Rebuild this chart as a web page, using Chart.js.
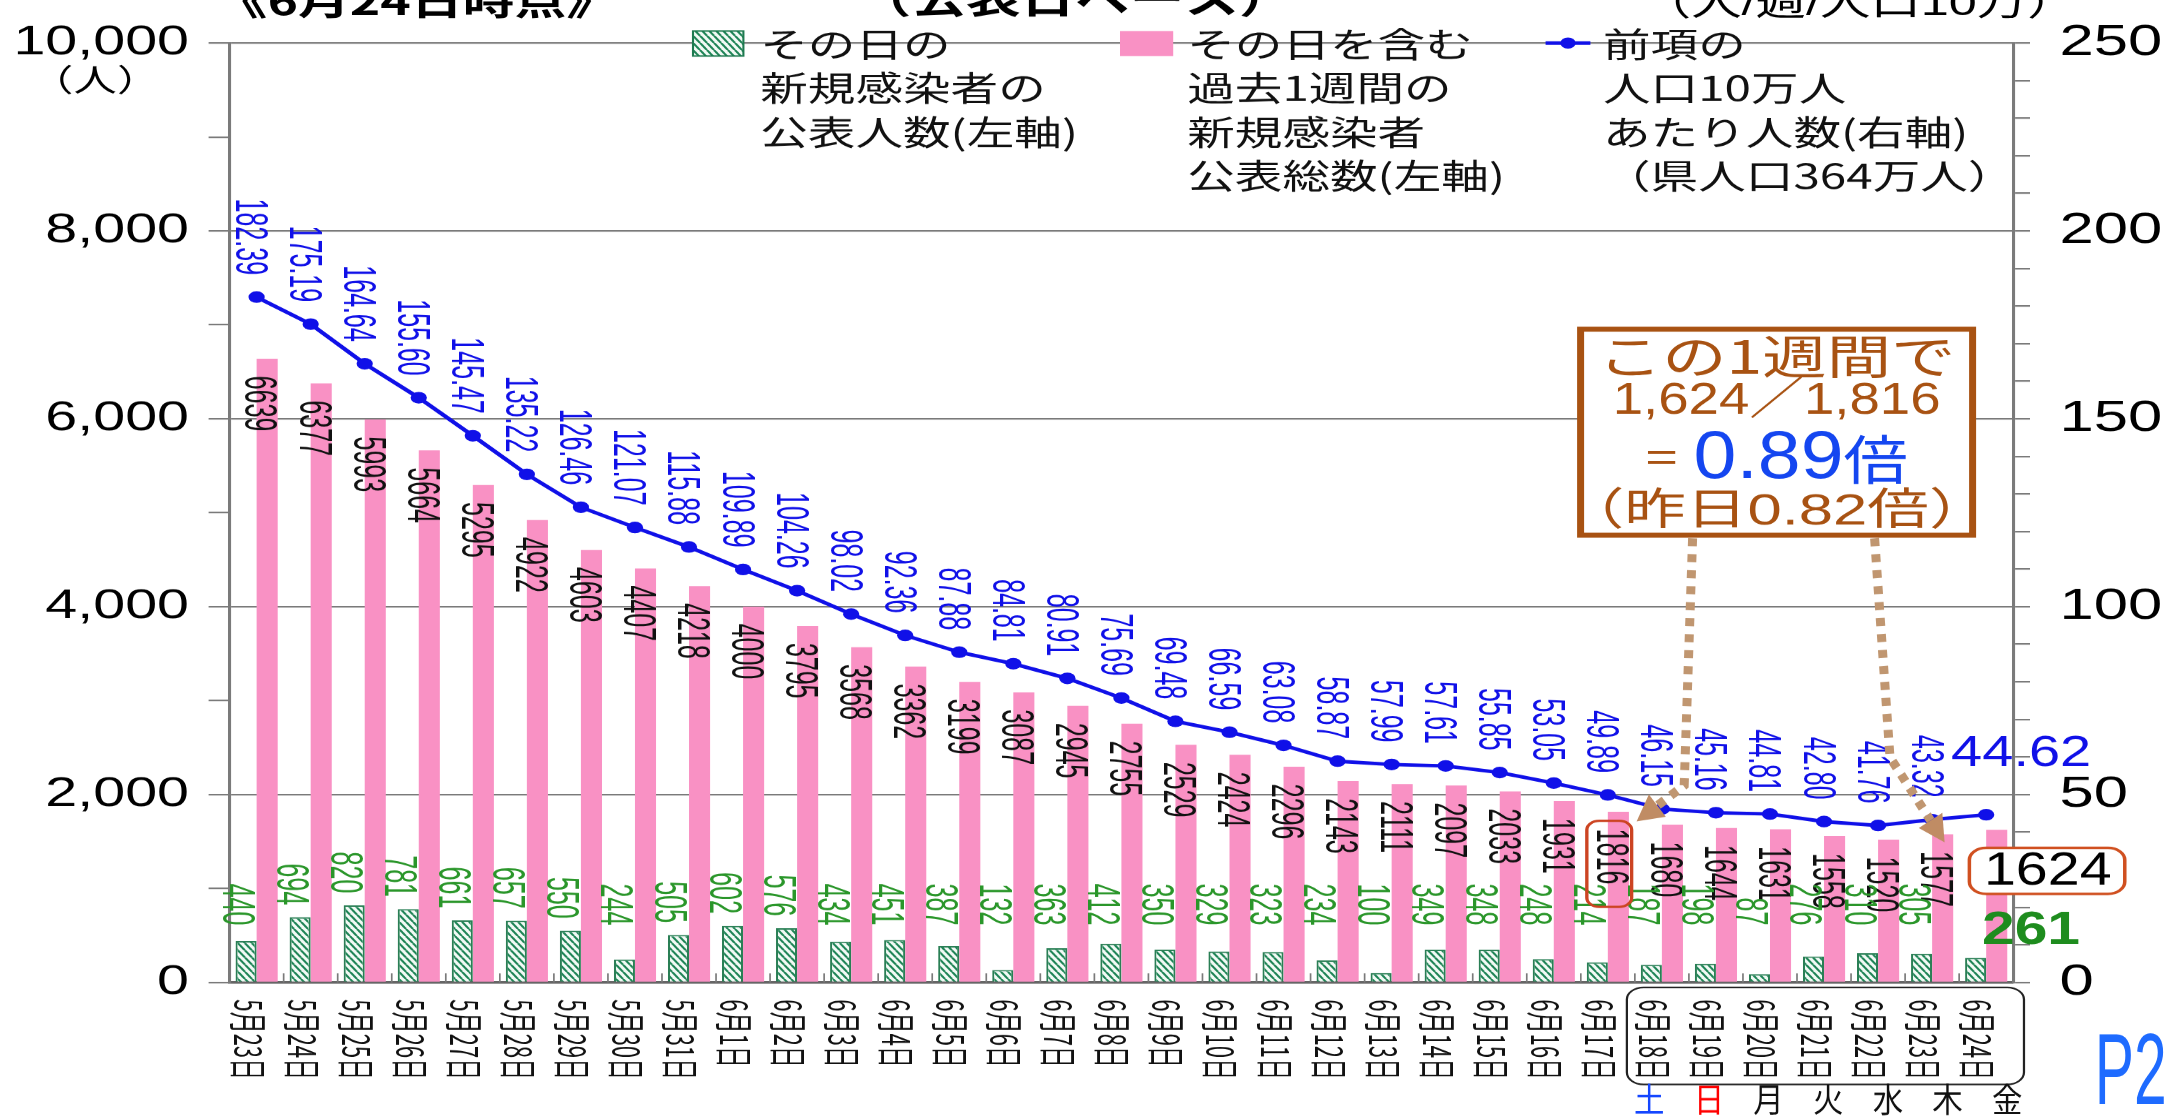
<!DOCTYPE html>
<html><head><meta charset="utf-8">
<script src="https://cdn.jsdelivr.net/npm/chart.js@4.4.1/dist/chart.umd.min.js"></script>
<style>
html,body{margin:0;padding:0;background:#fff;overflow:hidden;width:2177px;height:1119px;}
#wrap{position:absolute;left:0;top:0;width:1555px;height:1119px;transform:scaleX(1.4);transform-origin:0 0;}
canvas{display:block;}
</style></head><body>
<div id="wrap"><canvas id="c" width="1555" height="1119"></canvas></div>
<script>
// ---------------- data ----------------
const categories = ['5月23日','5月24日','5月25日','5月26日','5月27日','5月28日','5月29日','5月30日','5月31日','6月1日','6月2日','6月3日','6月4日','6月5日','6月6日','6月7日','6月8日','6月9日','6月10日','6月11日','6月12日','6月13日','6月14日','6月15日','6月16日','6月17日','6月18日','6月19日','6月20日','6月21日','6月22日','6月23日','6月24日'];
const dailyCases = [440,694,820,781,661,657,550,244,505,602,576,434,451,387,132,363,412,350,329,323,234,100,349,348,248,214,187,198,87,276,310,305,261];
const weeklyCases = [6639,6377,5993,5664,5295,4922,4603,4407,4218,4000,3795,3568,3362,3199,3087,2945,2755,2529,2424,2296,2143,2111,2097,2033,1931,1816,1680,1644,1631,1558,1520,1577,1624];
const per100k = [182.39,175.19,164.64,155.60,145.47,135.22,126.46,121.07,115.88,109.89,104.26,98.02,92.36,87.88,84.81,80.91,75.69,69.48,66.59,63.08,58.87,57.99,57.61,55.85,53.05,49.89,46.15,45.16,44.81,42.80,41.76,43.32,44.62];
const leftTickLabels = [0,2000,4000,6000,8000,10000];
const rightTickLabels = [0,50,100,150,200,250];
const weekdays = ['土','日','月','火','水','木','金'];
const legendDaily = ['その日の','新規感染者の','公表人数(左軸)'];
const legendWeekly = ['その日を含む','過去1週間の','新規感染者','公表総数(左軸)'];
const legendRate = ['前項の','人口10万人','あたり人数(右軸)','（県人口364万人）'];
const titleLeft = '《6月24日時点》';
const titleMid = '（公表日ベース）';
const titleRight = '（人/週/人口10万）';
const calloutLines = ['この1週間で','1,624／1,816','0.89','（昨日0.82倍）'];
const compareIndexA = 25;   // 6月17日 (1816)
const compareIndexB = 32;   // 6月24日 (1624)
const weekStartIndex = 26;  // 6月18日

// ---------------- styles ----------------
const SX = 1.4, DPR = 1.4;
const PINK = 'rgb(249,145,196)';
const BLUE = '#1010E8';
const GREEN_TXT = '#2A962A';
const BROWN = 'rgb(168,82,18)';
const GRID = '#7a7a7a';
const NUMF = '"Liberation Sans", Arial, sans-serif';
const JPF = '"Noto Sans CJK JP", "Noto Sans CJK SC", sans-serif';
const MIXF = '"Liberation Sans", "Noto Sans CJK JP", sans-serif';

function makeHatch(){
  const c = document.createElement('canvas'); c.width = 7; c.height = 10;
  const g = c.getContext('2d');
  g.fillStyle = '#F2FAF5'; g.fillRect(0,0,7,10);
  g.strokeStyle = '#1E8456'; g.lineWidth = 2.4;
  for (const k of [-1,0,1]) { g.beginPath(); g.moveTo(k*7,0); g.lineTo(k*7+7,10); g.stroke(); }
  const p = g.createPattern(c,'repeat');
  p.setTransform(new DOMMatrix().scale(1/DPR));
  return p;
}
const hatch = makeHatch();

// rotated (clockwise) text; gs scales glyph height (screen x)
function vtext(ctx, text, x, y, align, font, color, gs){
  ctx.save();
  ctx.translate(x, y);
  ctx.rotate(Math.PI/2);
  ctx.scale(1, gs || 1);
  ctx.font = font; ctx.fillStyle = color;
  ctx.textAlign = align; ctx.textBaseline = 'middle';
  ctx.fillText(text, 0, 0);
  ctx.restore();
}
function htext(ctx, text, x, y, align, font, color, base, sx, sy){
  ctx.save();
  ctx.translate(x, y);
  ctx.scale(sx || 1, sy || 1);
  ctx.font = font; ctx.fillStyle = color;
  ctx.textAlign = align; ctx.textBaseline = base || 'middle';
  ctx.fillText(text, 0, 0);
  ctx.restore();
}

// arrow drawn in screen space (undo horizontal stretch)
function dottedArrow(ctx, pts){
  ctx.save();
  ctx.scale(1/SX, 1);
  const P = pts.map(p => [p[0]*SX, p[1]]);
  ctx.strokeStyle = 'rgb(192,150,112)';
  ctx.lineWidth = 9;
  ctx.setLineDash([8,8]);
  ctx.beginPath();
  ctx.moveTo(P[0][0], P[0][1]);
  for (let i=1;i<P.length-1;i++) ctx.lineTo(P[i][0], P[i][1]);
  const a = P[P.length-2], b = P[P.length-1];
  const ang = Math.atan2(b[1]-a[1], b[0]-a[0]);
  const hl = 26;
  ctx.lineTo(b[0]-Math.cos(ang)*hl, b[1]-Math.sin(ang)*hl);
  ctx.stroke();
  ctx.setLineDash([]);
  ctx.fillStyle = 'rgb(192,140,100)';
  ctx.beginPath();
  ctx.moveTo(b[0], b[1]);
  ctx.lineTo(b[0]-Math.cos(ang)*hl - Math.sin(ang)*14, b[1]-Math.sin(ang)*hl + Math.cos(ang)*14);
  ctx.lineTo(b[0]-Math.cos(ang)*hl + Math.sin(ang)*14, b[1]-Math.sin(ang)*hl - Math.cos(ang)*14);
  ctx.closePath(); ctx.fill();
  ctx.restore();
}

const labelPlugin = {
  id: 'valueLabels',
  afterDatasetsDraw(chart){
    const ctx = chart.ctx;
    const xs = chart.scales.x;
    const lineMeta = chart.getDatasetMeta(0);
    const dailyMeta = chart.getDatasetMeta(1);
    const weeklyMeta = chart.getDatasetMeta(2);
    const last = categories.length - 1;
    const f = '25px ' + NUMF;
    const gs = 1.3;
    for (let i=0;i<categories.length;i++){
      const cx = xs.getPixelForValue(i);
      if (i !== last){
        const p = lineMeta.data[i];
        vtext(ctx, per100k[i].toFixed(2), p.x - 5.7, p.y - 22, 'right', f, BLUE, gs);
        const wb = weeklyMeta.data[i];
        vtext(ctx, String(weeklyCases[i]), cx + 1, wb.y + 17, 'left', f, '#111', gs);
        const db = dailyMeta.data[i];
        vtext(ctx, String(dailyCases[i]), cx - 15, Math.min(db.y - 12, 925), 'right', f, GREEN_TXT, gs);
      }
      vtext(ctx, categories[i], cx - 6, 999, 'left', '22px ' + JPF, '#111', 1.25);
    }
    // inward ticks at category boundaries
    const cw = xs.getPixelForValue(1) - xs.getPixelForValue(0);
    ctx.save(); ctx.strokeStyle = GRID; ctx.lineWidth = 1.2;
    for (let i=0;i<=categories.length;i++){
      const x = xs.getPixelForValue(0) - cw/2 + i*cw;
      ctx.beginPath(); ctx.moveTo(x, chart.chartArea.bottom); ctx.lineTo(x, chart.chartArea.bottom - 9); ctx.stroke();
    }
    ctx.restore();
  }
};

const annotationPlugin = {
  id: 'annotations',
  afterDraw(chart){
    const ctx = chart.ctx;
    const xs = chart.scales.x;
    const lineMeta = chart.getDatasetMeta(0);
    const weeklyMeta = chart.getDatasetMeta(2);

    // titles (cut at top)
    htext(ctx, titleLeft, 154, 15, 'left', 'bold 37px ' + JPF, '#000', 'alphabetic');
    htext(ctx, titleMid, 612, 13, 'left', 'bold 39px ' + JPF, '#000', 'alphabetic');
    htext(ctx, titleRight, 1172, 15, 'left', '36px ' + MIXF, '#000', 'alphabetic');
    // unit label
    htext(ctx, '（人）', 68, 80, 'center', '31px ' + JPF, '#000');

    // legend
    ctx.save();
    ctx.fillStyle = hatch; ctx.fillRect(495, 31, 36, 25);
    ctx.strokeStyle = '#1E7A50'; ctx.lineWidth = 1.5; ctx.strokeRect(495, 31, 36, 25);
    ctx.fillStyle = PINK; ctx.fillRect(800, 31, 38, 25);
    ctx.strokeStyle = BLUE; ctx.lineWidth = 3.5;
    ctx.beginPath(); ctx.moveTo(1104, 43); ctx.lineTo(1136, 43); ctx.stroke();
    ctx.fillStyle = BLUE; ctx.beginPath(); ctx.arc(1120, 43, 5.5, 0, Math.PI*2); ctx.fill();
    ctx.restore();
    const ly = [44, 88, 132, 176];
    legendDaily.forEach((t,k) => htext(ctx, t, 543, ly[k], 'left', '34px ' + JPF, '#111'));
    legendWeekly.forEach((t,k) => htext(ctx, t, 848, ly[k], 'left', '34px ' + JPF, '#111'));
    legendRate.forEach((t,k) => htext(ctx, t, 1145, ly[k], 'left', '34px ' + JPF, '#111'));

    // arrows (under callout)
    dottedArrow(ctx, [[1209, 538], [1203, 785], [1169, 821]]);
    dottedArrow(ctx, [[1339, 538], [1350, 757], [1389, 842]]);

    // callout box
    ctx.save();
    ctx.fillStyle = '#fff'; ctx.fillRect(1129, 329, 280, 206);
    ctx.strokeStyle = BROWN; ctx.lineWidth = 5; ctx.strokeRect(1129, 329, 280, 206);
    ctx.restore();
    const bcx = 1269;
    htext(ctx, calloutLines[0], bcx, 356, 'center', '46px ' + JPF, BROWN);
    htext(ctx, calloutLines[1], bcx, 401, 'center', '39px ' + MIXF, BROWN, 'middle', 1, 1.15);
    ctx.save();
    ctx.font = '40px ' + MIXF; const w1 = ctx.measureText('= ').width;
    ctx.font = '55px ' + NUMF; const w2 = ctx.measureText(calloutLines[2]).width;
    ctx.font = '46px ' + JPF; const w3 = ctx.measureText('倍').width;
    ctx.restore();
    let sx0 = bcx - (w1 + w2 + w3)/2;
    htext(ctx, '= ', sx0, 459, 'left', '40px ' + MIXF, BROWN);
    htext(ctx, calloutLines[2], sx0 + w1, 459, 'left', '55px ' + NUMF, '#1446F0', 'middle', 1, 1.22);
    htext(ctx, '倍', sx0 + w1 + w2, 459, 'left', '46px ' + JPF, '#1446F0', 'middle', 1, 1.15);
    htext(ctx, calloutLines[3], bcx, 512, 'center', '44px ' + MIXF, BROWN);

    // red box around 1816 label
    const ax = xs.getPixelForValue(compareIndexA) + 1;
    const ay = weeklyMeta.data[compareIndexA].y + 17;
    ctx.save();
    ctx.strokeStyle = '#CC4422'; ctx.lineWidth = 2.4;
    ctx.beginPath(); ctx.roundRect(ax - 16, ay - 8, 32, 86, 9); ctx.stroke();
    ctx.restore();

    // last-day labels
    const lp = lineMeta.data[compareIndexB];
    htext(ctx, per100k[compareIndexB].toFixed(2), lp.x + 25, lp.y - 61, 'center', '40px ' + NUMF, BLUE, 'middle', 1, 1.1);
    const bx = xs.getPixelForValue(compareIndexB);
    const by = weeklyMeta.data[compareIndexB].y;
    ctx.save();
    ctx.fillStyle = '#fff';
    ctx.strokeStyle = '#D05020'; ctx.lineWidth = 2.5;
    ctx.beginPath(); ctx.roundRect(bx - 12, by + 18, 111, 46, 12); ctx.fill(); ctx.stroke();
    ctx.restore();
    htext(ctx, String(weeklyCases[compareIndexB]), bx + 44, by + 42, 'center', '41px ' + NUMF, '#000', 'middle', 1, 1.12);
    htext(ctx, String(dailyCases[compareIndexB]), bx + 32, 931, 'center', 'bold 42px ' + NUMF, '#1E8C1E', 'middle', 1, 1.1);

    // rounded rectangle round last-week x labels + weekday labels
    const x26 = xs.getPixelForValue(weekStartIndex), x32 = xs.getPixelForValue(compareIndexB);
    ctx.save();
    ctx.strokeStyle = '#222'; ctx.lineWidth = 1.6;
    ctx.beginPath(); ctx.roundRect(x26 - 25, 987, (x32 - x26) + 52, 97, 12); ctx.stroke();
    ctx.restore();
    const wdColors = ['#1446FF','#FF0000','#111','#111','#111','#111','#111'];
    weekdays.forEach((d,k) => {
      const wx = xs.getPixelForValue(weekStartIndex + k) - 9 + 4 * k;
      htext(ctx, d, wx, 1099, 'center', '33px ' + JPF, wdColors[k], 'middle', 0.66, 1);
    });

    // page marker
    htext(ctx, 'P2', 1522, 1076, 'center', '42px ' + NUMF, '#1E6BFF', 'middle', 1, 2.4);
  }
};

const ctx = document.getElementById('c').getContext('2d');
new Chart(ctx, {
  type: 'bar',
  data: {
    labels: categories,
    datasets: [
      { type: 'line', label: '前項の人口10万人あたり人数(右軸)', data: per100k, yAxisID: 'y1',
        borderColor: BLUE, backgroundColor: BLUE, borderWidth: 3.5, pointRadius: 5.8, pointHoverRadius: 5.8,
        pointBackgroundColor: BLUE, pointBorderWidth: 0, tension: 0, order: 0 },
      { type: 'bar', label: 'その日の新規感染者の公表人数(左軸)', data: dailyCases, yAxisID: 'y',
        backgroundColor: hatch, borderColor: '#2A7F55', borderWidth: 1.5,
        categoryPercentage: 0.78, barPercentage: 1.0, order: 1 },
      { type: 'bar', label: 'その日を含む過去1週間の新規感染者公表総数(左軸)', data: weeklyCases, yAxisID: 'y',
        backgroundColor: PINK, borderWidth: 0,
        categoryPercentage: 0.78, barPercentage: 1.0, order: 1 }
    ]
  },
  options: {
    responsive: false,
    animation: false,
    devicePixelRatio: DPR,
    layout: { padding: { top: 24, left: 0, right: 0, bottom: 0 } },
    plugins: { legend: { display: false }, tooltip: { enabled: false } },
    scales: {
      x: {
        offset: true,
        grid: { display: false, drawTicks: false },
        border: { display: true, color: '#666', width: 2.5 },
        ticks: { display: false },
        afterFit(s){ s.height = 137; }
      },
      y: {
        position: 'left', min: 0, max: 10000,
        ticks: {
          stepSize: 1000, autoSkip: false, padding: 14, color: '#000',
          font: { family: 'Liberation Sans', size: 41, lineHeight: 1.0 },
          callback: v => leftTickLabels.includes(v) ? v.toLocaleString('en-US') : ''
        },
        grid: {
          color: c => (c.tick && leftTickLabels.includes(c.tick.value)) ? GRID : 'rgba(0,0,0,0)',
          tickColor: GRID, tickLength: 15, lineWidth: 1.6
        },
        border: { color: GRID, width: 2.2 },
        afterFit(s){ s.width = 164; }
      },
      y1: {
        position: 'right', min: 0, max: 250,
        ticks: {
          stepSize: 10, autoSkip: false, padding: 21, color: '#000',
          font: { family: 'Liberation Sans', size: 44, lineHeight: 1.0 },
          callback: v => rightTickLabels.includes(v) ? String(v) : ''
        },
        grid: { drawOnChartArea: false, tickColor: GRID, tickLength: 12, lineWidth: 1.6 },
        border: { color: GRID, width: 2.2 },
        afterFit(s){ s.width = 117; }
      }
    }
  },
  plugins: [labelPlugin, annotationPlugin]
});
</script>
</body></html>
